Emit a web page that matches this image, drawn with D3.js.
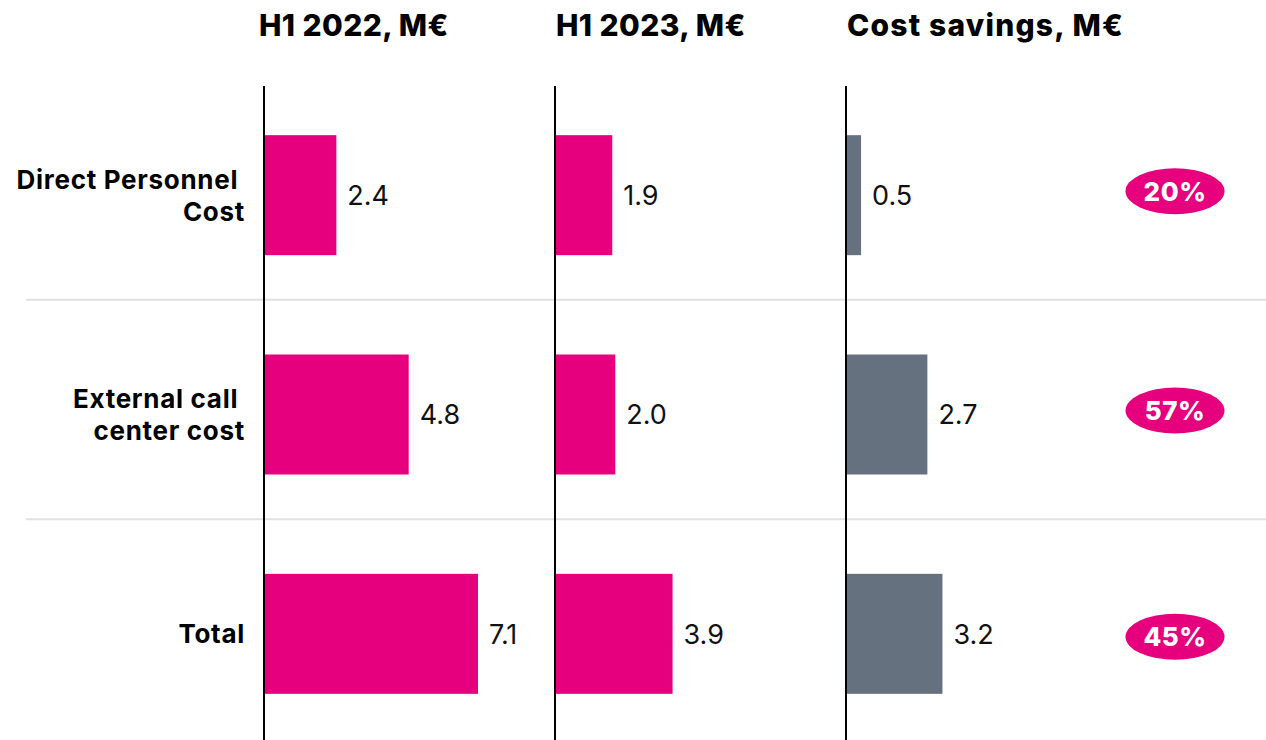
<!DOCTYPE html>
<html>
<head>
<meta charset="utf-8">
<script src="https://cdn.jsdelivr.net/npm/d3@7"></script>
<style>
  html, body { margin: 0; padding: 0; background: #fff; }
  svg { display: block; }
</style>
</head>
<body>
<div id="chart"></div>
<script>
// Row categories (label lines) and the three panels of values
const categories = ["Direct Personnel Cost", "External call center cost", "Total"];
const categoryLines = [["Direct Personnel ", "Cost"], ["External call ", "center cost"], ["Total"]];
const panelTitles = ["H1 2022, M\u20AC", "H1 2023, M\u20AC", "Cost savings, M\u20AC"];
const h1_2022 = [2.4, 4.8, 7.1];
const h1_2023 = [1.9, 2.0, 3.9];
const savings = [0.5, 2.7, 3.2];
const savingsPct = ["20%", "57%", "45%"];

const W = 1266, H = 740;
const PINK = "#E6007E", GRAY = "#667180";
const FONT = "Inter, 'Noto Sans', sans-serif";

const panels = [
  { title: panelTitles[0], values: h1_2022, color: PINK, x0: 264, tx: -5, ls: 0.4 },
  { title: panelTitles[1], values: h1_2023, color: PINK, x0: 555, tx: 1, ls: 0.4 },
  { title: panelTitles[2], values: savings, color: GRAY, x0: 846, tx: 1, ls: 1.2 }
];

const svg = d3.select("#chart").append("svg")
  .attr("width", W).attr("height", H);

// Rows
const y = d3.scaleBand().domain(categories).range([85.5, 743.5]).padding(0);
const barH = 120;
const cy = c => y(c) + y.bandwidth() / 2;

// Shared value scale (bar length in px)
const x = d3.scaleLinear().domain([0, 7.1]).range([0, 214]);

// Horizontal separators between rows
svg.append("g").selectAll("line")
  .data(categories.slice(1))
  .join("line")
  .attr("x1", 26).attr("x2", W)
  .attr("y1", c => y(c) - 5).attr("y2", c => y(c) - 5)
  .attr("stroke", "#e1e1e1").attr("stroke-width", 2);

// Category labels
const labelG = svg.append("g")
  .attr("font-family", FONT)
  .attr("font-weight", 700)
  .attr("font-size", 26)
  .attr("letter-spacing", 0.7)
  .attr("fill", "#000");
categories.forEach((c, i) => {
  const lines = categoryLines[i];
  const lh = 32;
  const t = labelG.append("text")
    .attr("text-anchor", "end")
    .style("white-space", "pre")
    .attr("y", cy(c) - (lines.length - 1) * lh / 2);
  lines.forEach((ln, j) => {
    t.append("tspan").attr("x", 245).attr("dy", j === 0 ? "0.36em" : lh).text(ln);
  });
});

panels.forEach(p => {
  const g = svg.append("g").attr("transform", `translate(${p.x0},0)`);

  // Panel title
  g.append("text")
    .attr("x", p.tx).attr("y", 36)
    .attr("font-family", FONT)
    .attr("font-weight", 800)
    .attr("font-size", 30)
    .attr("letter-spacing", p.ls)
    .attr("fill", "#000")
    .text(p.title);

  // Bars
  g.selectAll("rect")
    .data(categories)
    .join("rect")
    .attr("x", 0)
    .attr("y", c => cy(c) - barH / 2)
    .attr("width", (c, i) => x(p.values[i]))
    .attr("height", barH)
    .attr("fill", p.color);

  // Value labels
  g.selectAll("text.val")
    .data(categories)
    .join("text")
    .attr("class", "val")
    .attr("x", (c, i) => x(p.values[i]) + 11)
    .attr("y", c => cy(c))
    .attr("dy", "0.36em")
    .attr("font-family", FONT)
    .attr("font-weight", 400)
    .attr("font-size", 27)
    .attr("fill", "#111")
    .text((c, i) => p.values[i].toFixed(1));

  // Vertical baseline
  g.append("line")
    .attr("x1", 0).attr("x2", 0)
    .attr("y1", 86).attr("y2", H)
    .attr("stroke", "#000").attr("stroke-width", 2);
});

// Savings percentage badges
const badge = svg.append("g").selectAll("g")
  .data(categories)
  .join("g")
  .attr("transform", (c, i) => `translate(1175,${cy(c) + (i === categories.length - 1 ? 3 : -4)})`);
badge.append("ellipse")
  .attr("rx", 49.5).attr("ry", 23)
  .attr("fill", PINK);
badge.append("text")
  .attr("text-anchor", "middle")
  .attr("dy", "0.36em")
  .attr("font-family", FONT)
  .attr("font-weight", 800)
  .attr("font-size", 26)
  .attr("letter-spacing", 0.5)
  .attr("fill", "#fff")
  .text((c, i) => savingsPct[i]);
</script>
</body>
</html>
